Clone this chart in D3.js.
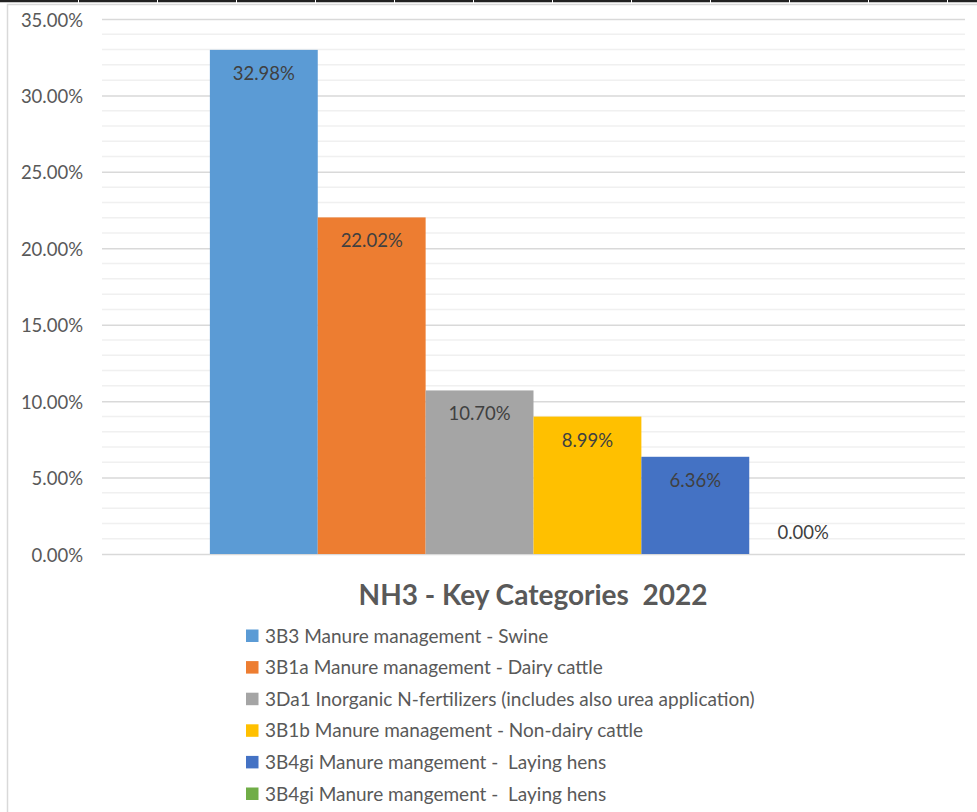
<!DOCTYPE html>
<html>
<head>
<meta charset="utf-8">
<script src="https://cdn.jsdelivr.net/npm/d3@7"></script>
<style>
  body { margin: 0; background: #fff; }
  text { font-family: Lato, "Open Sans", sans-serif; white-space: pre; }
</style>
</head>
<body>
<div id="chart"></div>
<script>
// series data (one category, six series)
var seriesNames = [
    "3B3 Manure management - Swine",
    "3B1a Manure management - Dairy cattle",
    "3Da1 Inorganic N-fertilizers (includes also urea application)",
    "3B1b Manure management - Non-dairy cattle",
    "3B4gi Manure mangement -  Laying hens",
    "3B4gi Manure mangement -  Laying hens"
];
var seriesValues = [32.98, 22.02, 10.70, 8.99, 6.36, 0.00];
var seriesColors = ["#5B9BD5", "#ED7D31", "#A5A5A5", "#FFC000", "#4472C4", "#70AD47"];
var majorTicks = [0, 5, 10, 15, 20, 25, 30, 35];
var title = "NH3 - Key Categories  2022";

var width = 977, height = 812;
var margin = {top: 19, right: 12, bottom: 258, left: 102};
var plotW = width - margin.left - margin.right;
var plotH = height - margin.top - margin.bottom;

var svg = d3.select("#chart").append("svg")
    .attr("width", width)
    .attr("height", height);

// sheet cell border at the very top
svg.append("line")
    .attr("x1", 0).attr("x2", width)
    .attr("y1", 1).attr("y2", 1)
    .style("stroke", "#222").style("stroke-width", 2.5)
    .style("stroke-dasharray", "78,1");

// chart area border
svg.append("path")
    .attr("d", "M7.5," + height + "V4.5H" + width)
    .style("fill", "none").style("stroke", "#d9d9d9").style("stroke-width", 1.5);

var g = svg.append("g").attr("transform", "translate(" + margin.left + "," + margin.top + ")");

var y = d3.scaleLinear().domain([0, 35]).range([plotH, 0]);

// single category, gap width 100% -> half a bar of empty space on each side
var gap = plotW / (seriesValues.length + 2);
var x1 = d3.scaleBand()
    .domain(d3.range(seriesValues.length))
    .range([gap, plotW - gap]);

// minor gridlines
g.selectAll(".minor").data(d3.range(0, 36, 1).filter(function(d) { return d % 5 !== 0; }))
    .enter().append("line")
    .attr("class", "minor")
    .attr("x1", 0).attr("x2", plotW)
    .attr("y1", function(d) { return y(d); }).attr("y2", function(d) { return y(d); })
    .style("stroke", "#f0f0f0").style("stroke-width", 1.5);

// y axis with major gridlines
var yAxis = d3.axisLeft(y)
    .tickValues(majorTicks)
    .tickSize(-plotW)
    .tickPadding(19)
    .tickFormat(function(d) { return d.toFixed(2) + "%"; });

var ax = g.append("g").call(yAxis);
ax.select(".domain").remove();
ax.selectAll(".tick line").style("stroke", "#d9d9d9").style("stroke-width", 1.5);
ax.selectAll(".tick text")
    .style("font-family", "Lato, sans-serif")
    .style("font-size", "18.5px")
    .attr("dy", "0.38em")
    .style("fill", "#595959");

// bars
g.selectAll(".bar").data(seriesValues)
    .enter().append("rect")
    .attr("class", "bar")
    .attr("x", function(d, i) { return x1(i); })
    .attr("width", x1.bandwidth())
    .attr("y", function(d) { return y(d); })
    .attr("height", function(d) { return plotH - y(d); })
    .style("fill", function(d, i) { return seriesColors[i]; });

// value labels, inside end (above base for zero)
g.selectAll(".val").data(seriesValues)
    .enter().append("text")
    .attr("class", "val")
    .attr("x", function(d, i) { return x1(i) + x1.bandwidth() / 2; })
    .attr("y", function(d) { return d > 1 ? y(d) + 30 : y(d) - 15; })
    .attr("text-anchor", "middle")
    .style("font-size", "18.5px")
    .style("fill", "#404040")
    .text(function(d) { return d.toFixed(2) + "%"; });

// title
svg.append("text")
    .attr("x", 533)
    .attr("y", 605)
    .attr("text-anchor", "middle")
    .style("font-size", "28px")
    .style("font-weight", "bold")
    .style("fill", "#595959")
    .text(title);

// legend
var legend = svg.append("g").attr("transform", "translate(246,636)");
var rows = legend.selectAll(".row").data(seriesNames)
    .enter().append("g")
    .attr("class", "row")
    .attr("transform", function(d, i) { return "translate(0," + (i * 31.6) + ")"; });

rows.append("rect")
    .attr("x", 0).attr("y", -6.5)
    .attr("width", 12.5).attr("height", 12.5)
    .style("fill", function(d, i) { return seriesColors[i]; });

rows.append("text")
    .attr("x", 19)
    .attr("y", 6.5)
    .style("font-size", "19px")
    .style("fill", "#595959")
    .text(function(d) { return d; });
</script>
</body>
</html>
